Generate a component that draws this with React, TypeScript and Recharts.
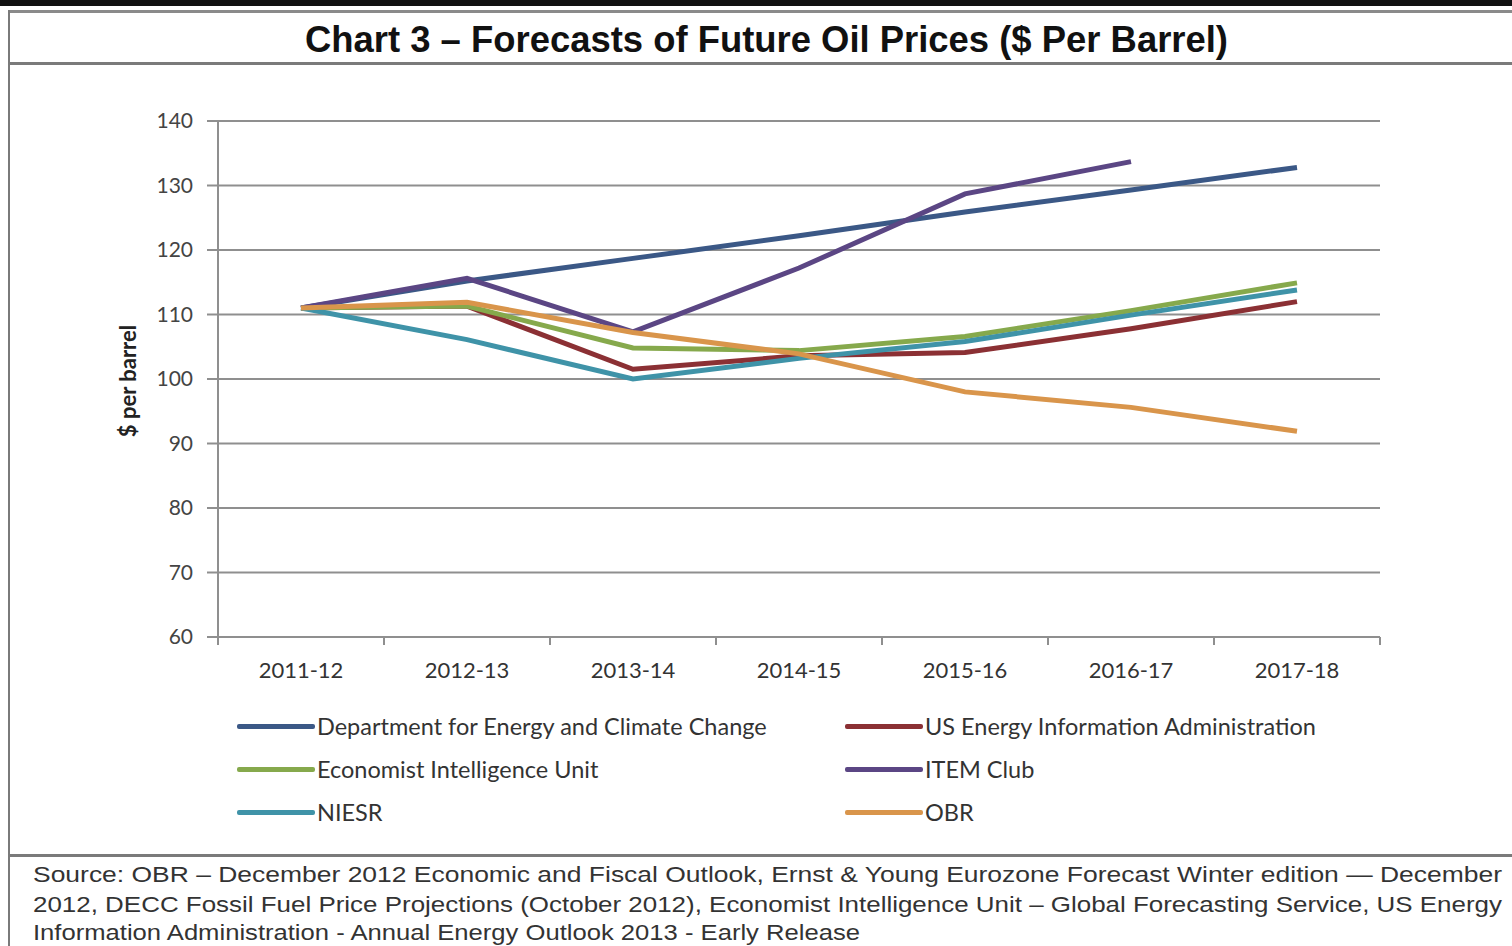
import React from "react"
import { LineChart, Line, XAxis, YAxis, CartesianGrid } from "recharts"

// categories and forecasts ($ per barrel)
const years = ["2011-12", "2012-13", "2013-14", "2014-15", "2015-16", "2016-17", "2017-18"]
const decc = [111, 115.2, 118.7, 122.2, 125.9, 129.3, 132.8]
const usEia = [111, 111.3, 101.5, 103.6, 104.1, 107.8, 112.0]
const eiu = [111, 111.3, 104.8, 104.4, 106.6, 110.6, 114.9]
const itemClub = [111, 115.6, 107.3, 117.2, 128.7, 133.7, null]
const niesr = [111, 106.1, 100.0, 103.2, 105.8, 109.9, 113.8]
const obr = [111, 111.9, 107.2, 103.9, 98.0, 95.6, 91.9]
const yTicks = [60, 70, 80, 90, 100, 110, 120, 130, 140]

const series = [
  { key: "decc", name: "Department for Energy and Climate Change", values: decc, color: "#3b5886" },
  { key: "usEia", name: "US Energy Information Administration", values: usEia, color: "#8b3034" },
  { key: "eiu", name: "Economist Intelligence Unit", values: eiu, color: "#86a94c" },
  { key: "itemClub", name: "ITEM Club", values: itemClub, color: "#5b4684" },
  { key: "niesr", name: "NIESR", values: niesr, color: "#3f93a8" },
  { key: "obr", name: "OBR", values: obr, color: "#d9954b" },
]

// each year sits in the middle of its slot on a 0..7 numeric axis, so the
// axis ticks can fall on the slot boundaries like the original
const data = years.map((year, i) => {
  const row: Record<string, number | string | null> = { year, slot: i + 0.5 }
  series.forEach((s) => (row[s.key] = s.values[i]))
  return row
})
const boundaryTicks = years.map((_, i) => i).concat(years.length)

const GRID = "#8f8f8f"
const FONT = "Lato, 'Open Sans', sans-serif"

// tick mark on every slot boundary, year label centred in the slot to its right
const SlotTick = (props: any) => {
  const { x, y, payload, width } = props
  const slotW = width / years.length
  const label = years[payload.value]
  return (
    <g>
      <line x1={x} y1={y - 8} x2={x} y2={y} stroke={GRID} strokeWidth={2} />
      {label && (
        <text x={x + slotW / 2} y={y + 33} textAnchor="middle" fontFamily={FONT} fontSize={22} fill="#333">
          {label}
        </text>
      )}
    </g>
  )
}

const YTitle = (props: any) => {
  const { viewBox } = props
  const cx = viewBox.x + 2
  const cy = viewBox.y + viewBox.height / 2 + 2
  return (
    <text x={cx} y={cy} transform={`rotate(-90 ${cx} ${cy})`} textAnchor="middle"
      dominantBaseline="middle" fontFamily={FONT} fontWeight={700} fontSize={22} fill="#222">
      $ per barrel
    </text>
  )
}

const Legend = () => (
  <div style={{ position: "absolute", left: 237, top: 709, width: 1150, fontFamily: FONT, fontSize: 23.5, color: "#333" }}>
    {series.map((s, i) => (
      <div key={s.key} style={{
        position: "absolute", left: i % 2 === 0 ? 0 : 608, top: Math.floor(i / 2) * 43,
        display: "flex", alignItems: "center", height: 34, whiteSpace: "nowrap",
      }}>
        <span style={{ display: "inline-block", width: 78, height: 5, background: s.color, borderRadius: 2, marginRight: 2 }} />
        {s.name}
      </div>
    ))}
  </div>
)

export default function App() {
  return (
    <div style={{ position: "absolute", left: 0, top: 0, width: 1512, height: 946, background: "#fff", overflow: "hidden" }}>
      {/* frame */}
      <div style={{ position: "absolute", left: 0, top: 0, width: 1512, height: 6, background: "#111" }} />
      <div style={{ position: "absolute", left: 8, top: 10, width: 1504, height: 3, background: "#8a8a8a" }} />
      <div style={{ position: "absolute", left: 8, top: 10, width: 2, height: 936, background: "#7a7a7a" }} />
      <div style={{ position: "absolute", left: 8, top: 62, width: 1504, height: 3, background: "#7a7a7a" }} />
      <div style={{ position: "absolute", left: 8, top: 854, width: 1504, height: 3, background: "#7a7a7a" }} />

      <svg width={1512} height={946} style={{ position: "absolute", left: 0, top: 0 }}>
        <text x={305} y={52} textLength={923} lengthAdjust="spacingAndGlyphs"
          fontFamily="'Liberation Sans', Arial, sans-serif" fontWeight={700} fontSize={37} fill="#111">
          Chart 3 – Forecasts of Future Oil Prices ($ Per Barrel)
        </text>
        <g fontFamily="'Liberation Sans', Arial, sans-serif" fontSize={22} fill="#333">
          <text x={33} y={882} textLength={1469} lengthAdjust="spacingAndGlyphs">
            Source: OBR – December 2012 Economic and Fiscal Outlook, Ernst &amp; Young Eurozone Forecast Winter edition — December
          </text>
          <text x={33} y={912} textLength={1469} lengthAdjust="spacingAndGlyphs">
            2012, DECC Fossil Fuel Price Projections (October 2012), Economist Intelligence Unit – Global Forecasting Service, US Energy
          </text>
          <text x={33} y={940} textLength={827} lengthAdjust="spacingAndGlyphs">
            Information Administration - Annual Energy Outlook 2013 - Early Release
          </text>
        </g>
      </svg>

      <div style={{ position: "absolute", left: 0, top: 0 }}>
        <LineChart width={1512} height={700} data={data} margin={{ top: 121, right: 132, bottom: 15, left: 128 }}>
          <CartesianGrid vertical={false} stroke={GRID} strokeWidth={2} />
          <XAxis type="number" dataKey="slot" domain={[0, years.length]} ticks={boundaryTicks} interval={0}
            tickLine={false} height={48} stroke={GRID} strokeWidth={2} tick={<SlotTick />} />
          <YAxis domain={[60, 140]} ticks={yTicks} width={90} tickSize={11} tickMargin={14} interval={0}
            stroke={GRID} strokeWidth={2}
            tick={{ fontFamily: FONT, fontSize: 21, fill: "#444" }}
            label={<YTitle />} />
          {series.map((s) => (
            <Line key={s.key} dataKey={s.key} name={s.name} type="linear"
              stroke={s.color} strokeWidth={5} dot={false} isAnimationActive={false} />
          ))}
        </LineChart>
      </div>

      <Legend />
    </div>
  )
}
